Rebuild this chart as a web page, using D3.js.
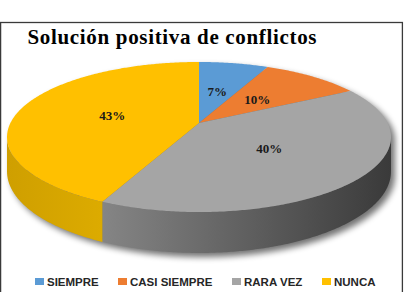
<!DOCTYPE html>
<html>
<head>
<meta charset="utf-8">
<script src="https://cdn.jsdelivr.net/npm/d3@7"></script>
<style>
  html, body { margin: 0; padding: 0; background: #fff; }
  svg { display: block; }
</style>
</head>
<body>
<script>
const categories = ["SIEMPRE", "CASI SIEMPRE", "RARA VEZ", "NUNCA"];
const values = [7, 10, 40, 43];
const labels = ["7%", "10%", "40%", "43%"];
const topColors = ["#5b9bd5", "#ed7d31", "#a5a5a5", "#ffc000"];
const sideColorsLeft = ["#3f78ad", "#c25e1c", "#858585", "#cf9f00"];
const sideColorsRight = ["#3f78ad", "#c25e1c", "#3a3a3a", "#dcab00"];
const title = "Solución positiva de conflictos";

const W = 405, H = 292;
const svg = d3.select("body").append("svg")
    .attr("width", W)
    .attr("height", H);

const defs = svg.append("defs");
defs.append("filter").attr("id", "blur")
    .attr("x", "-10%").attr("y", "-10%").attr("width", "120%").attr("height", "130%")
  .append("feGaussianBlur").attr("stdDeviation", 3);

// frame
svg.append("rect")
    .attr("x", 0.6).attr("y", 22.5)
    .attr("width", 401.8).attr("height", 300)
    .attr("fill", "none")
    .attr("stroke", "#3a3a3a")
    .attr("stroke-width", 1.3);

// title
svg.append("text")
    .attr("x", 27.5).attr("y", 44.3)
    .attr("font-family", "'Liberation Serif', 'Times New Roman', serif")
    .attr("font-weight", "bold")
    .attr("font-size", 21)
    .attr("textLength", 289)
    .attr("lengthAdjust", "spacing")
    .attr("fill", "#000")
    .text(title);

// perspective projection of the pie disc
const cx = 199, cy = 123, R = 188.6, A = 72.4, K = 0.1867, DEPTH = 33.3;
function project(theta, f, z) {
    const u = Math.sin(theta) * f, v = -Math.cos(theta) * f;
    const s = 1 / (1 - K * v);
    return [cx + R * u * s, cy + (A * v + z * DEPTH) * s];
}
function arcPts(a0, a1, f, z) {
    const n = Math.max(2, Math.ceil(Math.abs(a1 - a0) / 0.01));
    return d3.range(n + 1).map(i => project(a0 + (a1 - a0) * i / n, f, z));
}
const line = d3.line();

const pie = d3.pie().sort(null).startAngle(0).endAngle(2 * Math.PI);
const arcs = pie(values);

// visible outer wall range
const sideStart = Math.PI - Math.acos(K);   // ~100.8 deg
const sideEnd = Math.PI + Math.acos(K);     // ~259.2 deg

// drop shadow
const shadowPts = arcPts(sideEnd - 2 * Math.PI, sideStart, 1, 0)
    .concat(arcPts(sideStart, sideEnd, 1, 1));
svg.append("path")
    .attr("d", line(shadowPts) + "Z")
    .attr("transform", "translate(4,4)")
    .attr("fill", "#000")
    .attr("opacity", 0.55)
    .attr("filter", "url(#blur)");

// side walls
arcs.forEach((d, i) => {
    const a0 = Math.max(d.startAngle, sideStart);
    const a1 = Math.min(d.endAngle, sideEnd);
    if (a1 <= a0) return;
    const top = arcPts(a0, a1, 1, 0);
    const bot = arcPts(a1, a0, 1, 1);
    const xs = top.map(p => p[0]);
    const gid = "side" + i;
    const g = defs.append("linearGradient").attr("id", gid)
        .attr("gradientUnits", "userSpaceOnUse")
        .attr("x1", d3.min(xs)).attr("x2", d3.max(xs))
        .attr("y1", 0).attr("y2", 0);
    g.append("stop").attr("offset", 0).attr("stop-color", sideColorsLeft[i]);
    g.append("stop").attr("offset", 1).attr("stop-color", sideColorsRight[i]);
    svg.append("path")
        .attr("d", line(top.concat(bot)) + "Z")
        .attr("fill", `url(#${gid})`);
});

// top faces
arcs.forEach((d, i) => {
    const pts = [project(0, 0, 0)].concat(arcPts(d.startAngle, d.endAngle, 1, 0));
    svg.append("path")
        .attr("d", line(pts) + "Z")
        .attr("fill", topColors[i]);
});

// data labels
arcs.forEach((d, i) => {
    const mid = (d.startAngle + d.endAngle) / 2;
    const p = project(mid, 0.48, 0);
    svg.append("text")
        .attr("x", p[0]).attr("y", p[1])
        .attr("dy", "0.35em")
        .attr("text-anchor", "middle")
        .attr("font-family", "'Liberation Serif', 'Times New Roman', serif")
        .attr("font-weight", "bold")
        .attr("font-size", 13)
        .attr("fill", "#1a1a1a")
        .text(labels[i]);
});

// legend
const legendX = [35, 118, 232, 322];
const legend = svg.append("g").attr("transform", "translate(0,286)");
categories.forEach((c, i) => {
    legend.append("rect")
        .attr("x", legendX[i]).attr("y", -8)
        .attr("width", 9).attr("height", 7)
        .attr("fill", topColors[i]);
    legend.append("text")
        .attr("x", legendX[i] + 12).attr("y", 0)
        .attr("font-family", "'Liberation Sans', Arial, sans-serif")
        .attr("font-weight", "bold")
        .attr("font-size", 11.5)
        .attr("fill", "#262626")
        .text(c);
});
</script>
</body>
</html>
